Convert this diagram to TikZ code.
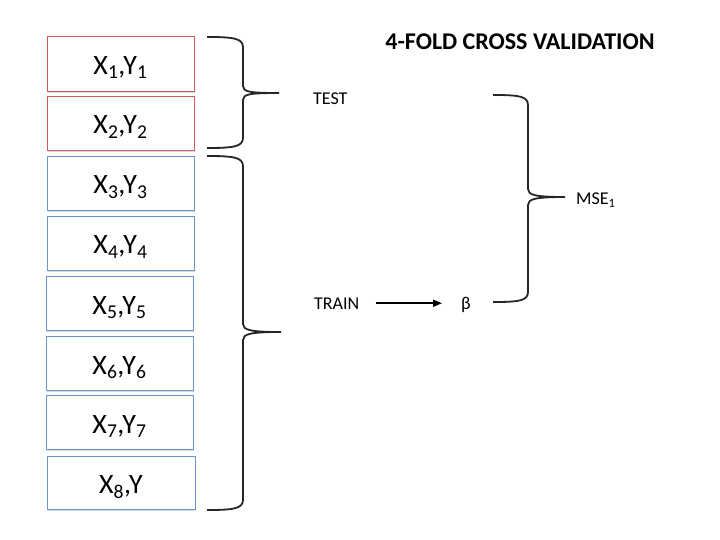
\documentclass[tikz,border=0pt]{standalone}
\usepackage{fontspec}
\setmainfont{Carlito}
\usetikzlibrary{arrows.meta}
\definecolor{boxred}{RGB}{208,90,90}
\definecolor{boxblue}{RGB}{105,148,205}
\tikzset{
  cell/.style={draw=#1, line width=0.9pt, fill=white},
  shade/.style={fill=black!15, draw=none},
  celltext/.style={anchor=base, font=\fontsize{28}{30}\selectfont, inner sep=0pt},
  lbl/.style={anchor=base west, font=\fontsize{18}{20}\selectfont, inner sep=0pt},
  bracepath/.style={line width=1.8pt, black!85},
}
\begin{document}
\begin{tikzpicture}[x=1pt,y=-1pt]
\useasboundingbox (0,0) rectangle (720,540);
% boxes
\foreach \xa/\ya/\xb/\yb/\c/\t [count=\i] in {
  47/36/194/91/boxred/{X\textsubscript{1},Y\textsubscript{1}},
  47/96/194/150/boxred/{X\textsubscript{2},Y\textsubscript{2}},
  47/156/194/210/boxblue/{X\textsubscript{3},Y\textsubscript{3}},
  47/216/194/270/boxblue/{X\textsubscript{4},Y\textsubscript{4}},
  46/276/193/330/boxblue/{X\textsubscript{5},Y\textsubscript{5}},
  46/336/193/390/boxblue/{X\textsubscript{6},Y\textsubscript{6}},
  46/395/193/449/boxblue/{X\textsubscript{7},Y\textsubscript{7}},
  47/456/195/509/boxblue/{X\textsubscript{8},Y}}{
  \fill[shade] (\xa+1.2,\ya+1.2) rectangle (\xb+1.2,\yb+1.6);
  \draw[cell=\c] (\xa,\ya) rectangle (\xb,\yb);
  \node[celltext] (b\i) at ({(\xa+\xb)/2},{(\ya+\yb)/2+11}) {\t};
}
% title
\node[anchor=base, font=\bfseries\fontsize{24}{26}\selectfont, inner sep=0pt] (title) at (520,50) {4-FOLD CROSS VALIDATION};
% labels
\node[lbl] (test) at (313,105) {TEST};
\node[lbl] (train) at (314,309) {TRAIN};
\node[lbl] (beta) at (461,309) {β};
\node[lbl] (mse) at (576,205) {MSE\textsubscript{1}};
% arrow
\draw[line width=1.6pt, -{Triangle[length=9pt,width=7pt]}, shorten <=16pt, shorten >=19pt]
  (train.east) -- (train.east -| beta.west);
% braces
\draw[bracepath] (207,37) .. controls (232,37) and (243,38) .. (243,47)
  -- (243,86) .. controls (243,92) and (250,93) .. (279,93)
  .. controls (250,93) and (243,94) .. (243,100)
  -- (243,138) .. controls (243,147) and (232,148) .. (207,148);
\draw[bracepath] (207,156) .. controls (232,156) and (243,157) .. (243,166)
  -- (243,324) .. controls (243,330) and (250,332) .. (281,332)
  .. controls (250,332) and (243,334) .. (243,340)
  -- (243,500) .. controls (243,509) and (232,510) .. (207,510);
\draw[bracepath] (493,95) .. controls (518,95) and (528,96) .. (528,105)
  -- (528,189) .. controls (528,195) and (535,197) .. (565,197)
  .. controls (535,197) and (528,199) .. (528,205)
  -- (528,292) .. controls (528,301) and (518,302) .. (493,302);
\end{tikzpicture}
\end{document}
